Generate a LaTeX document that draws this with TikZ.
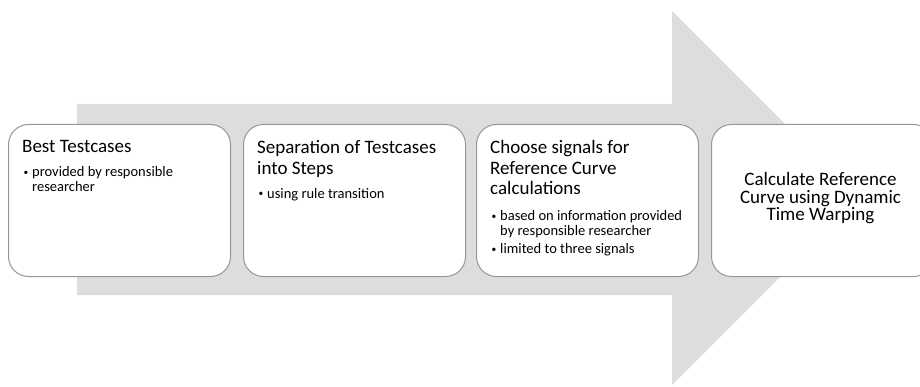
\documentclass[tikz,border=0pt]{standalone}
\usepackage{fontspec}
\setmainfont{Carlito}
\usepackage{graphicx}
\usepackage{xcolor}
\usepackage{tikz}

\definecolor{arrowgray}{RGB}{221,221,221}
\definecolor{boxline}{RGB}{150,150,150}

% title and bullet text of the steps
\newcommand{\steptitle}{\fontsize{19}{20.7}\selectfont}
\newcommand{\stepbody}{\fontsize{14.5}{15}\selectfont}
\newcommand{\bul}[1]{\par\hangindent=10pt\hangafter=1\noindent
    \makebox[10pt][l]{\hspace{1.5pt}\raisebox{1.2pt}{\scalebox{0.65}{\textbullet}}}#1}

\tikzset{
    stepbox/.style={draw=boxline, line width=1pt, fill=white, rounded corners=20pt,
        minimum width=222pt, minimum height=152pt, anchor=north west, inner sep=0pt},
    steptext/.style={anchor=north west, text width=195pt, align=flush left, inner sep=0pt,
        execute at begin node={\hyphenpenalty=10000\exhyphenpenalty=10000}},
}

\begin{document}
\begin{tikzpicture}[x=1pt, y=-1pt]
    \useasboundingbox (0,0) rectangle (920,387);
    \clip (0,0) rectangle (920,387);

    % ===== Big gray arrow in the background =====
    \fill[arrowgray] (77,104) -- (672,104) -- (672,11) -- (859,198)
        -- (672,385) -- (672,295) -- (77,295) -- cycle;

    % ===== Step boxes =====
    \foreach \n/\x in {1/8, 2/243, 3/476, 4/711} {
        \node[stepbox] (box\n) at (\x,124) {};
    }

    % Step texts
    \node[steptext] (txt1) at ([shift={(14,16)}]box1.north west) {%
        {\steptitle Best Testcases\par}\vspace{9pt}
        {\stepbody\bul{provided by responsible researcher}\par}};
    \node[steptext] (txt2) at ([shift={(14,16)}]box2.north west) {%
        {\steptitle Separation of Testcases into Steps\par}\vspace{9pt}
        {\stepbody\bul{using rule transition}\par}};
    \node[steptext] (txt3) at ([shift={(14,16)}]box3.north west) {%
        {\steptitle Choose signals for Reference Curve calculations\par}\vspace{11pt}
        {\stepbody\bul{based on information provided by responsible researcher}\par
        \vspace{3pt}\bul{limited to three signals}\par}};
    \node[align=center, inner sep=0pt, font=\fontsize{19}{17.5}\selectfont]
        (txt4) at ([shift={(-2,-2)}]box4.center)
        {Calculate Reference\\ Curve using Dynamic\\ Time Warping};
\end{tikzpicture}
\end{document}
